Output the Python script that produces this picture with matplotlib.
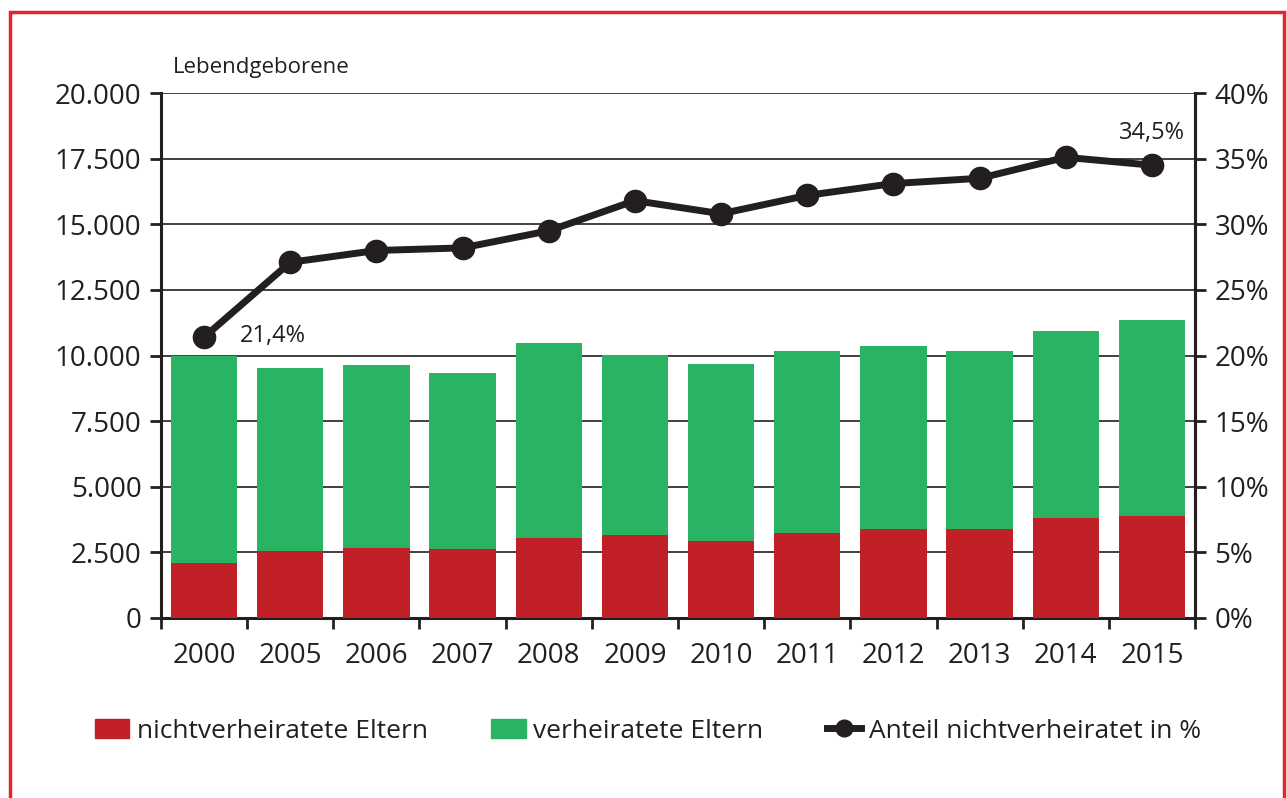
import matplotlib as mpl
import matplotlib.pyplot as plt
import matplotlib.patches as mpatches
import matplotlib.lines as mlines
import numpy as np
from matplotlib.ticker import FuncFormatter, FixedLocator

mpl.rcParams['font.family'] = ['Open Sans', 'DejaVu Sans']

years = ['2000', '2005', '2006', '2007', '2008', '2009', '2010', '2011', '2012', '2013', '2014', '2015']
nicht_verh = [2100, 2550, 2670, 2630, 3050, 3160, 2930, 3240, 3390, 3390, 3810, 3890]
gesamt = [9980, 9520, 9640, 9330, 10480, 10020, 9680, 10170, 10360, 10170, 10930, 11350]
anteil = [21.4, 27.1, 28.0, 28.2, 29.5, 31.8, 30.8, 32.2, 33.1, 33.5, 35.1, 34.5]
verh = [g - n for g, n in zip(gesamt, nicht_verh)]

red = '#c02026'
green = '#2ab363'
dark = '#231f20'

fig = plt.figure(figsize=(12.87, 7.98), dpi=100)
ax = fig.add_axes([161/1287, 1 - 618/798, (1195-161)/1287, (618-93)/798])

x = np.arange(len(years))
ax.bar(x, nicht_verh, width=0.77, color=red, zorder=3)
ax.bar(x, verh, width=0.77, bottom=nicht_verh, color=green, zorder=3)

ax.set_xlim(-0.5, len(years) - 0.5)
ax.set_ylim(0, 20000)
ax.set_yticks(np.arange(0, 20001, 2500))
ax.yaxis.set_major_formatter(FuncFormatter(lambda v, p: '{:,.0f}'.format(v).replace(',', '.')))
ax.grid(axis='y', color=dark, linewidth=1.2, zorder=1)
ax.set_xticks(x)
ax.set_xticklabels(years)
ax.xaxis.set_minor_locator(FixedLocator(np.arange(-0.5, len(years), 1.0)))
ax.tick_params(axis='x', which='major', length=0, pad=17, labelsize=20, colors=dark)
ax.tick_params(axis='x', which='minor', length=8, width=2, direction='out', color=dark)
ax.tick_params(axis='y', length=8, width=2, direction='out', labelsize=20, colors=dark, pad=6)
for s in ['left', 'right', 'bottom']:
    ax.spines[s].set_linewidth(2.2)
    ax.spines[s].set_color(dark)
ax.spines['top'].set_visible(False)

ax2 = ax.twinx()
ax2.plot(x, anteil, color=dark, linewidth=5, marker='o', markersize=16, zorder=5)
ax2.set_ylim(0, 40)
ax2.set_yticks(np.arange(0, 41, 5))
ax2.yaxis.set_major_formatter(FuncFormatter(lambda v, p: '{:.0f}%'.format(v)))
ax2.tick_params(axis='y', length=8, width=2, direction='out', labelsize=20, colors=dark, pad=6)
for s in ['top', 'left', 'bottom']:
    ax2.spines[s].set_visible(False)
ax2.spines['right'].set_linewidth(2.2)
ax2.spines['right'].set_color(dark)

ax2.annotate('21,4%', xy=(x[0], anteil[0]), xytext=(26, 1), textcoords='offset points',
             ha='left', va='center', fontsize=17, color=dark)
ax2.annotate('34,5%', xy=(x[-1], anteil[-1]), xytext=(0, 23), textcoords='offset points',
             ha='center', va='center', fontsize=17, color=dark)

fig.text(173/1287, 1 - 68/798, 'Lebendgeborene', fontsize=16, color=dark, va='center')

handles = [mpatches.Patch(color=red, label='nichtverheiratete Eltern'),
           mpatches.Patch(color=green, label='verheiratete Eltern'),
           mlines.Line2D([], [], color=dark, linewidth=5, marker='o', markersize=12,
                         label='Anteil nichtverheiratet in %')]
fig.legend(handles=handles, loc='center', bbox_to_anchor=(648/1287, 1 - 731/798), ncol=3,
           frameon=False, fontsize=19, handlelength=1.3, handletextpad=0.3, columnspacing=2.4,
           labelcolor=dark)

fig.patches.append(mpatches.Rectangle((10/1287, -0.01), 1274/1287, 1 - 12/798 + 0.01,
                                      transform=fig.transFigure, fill=False,
                                      edgecolor='#e3262d', linewidth=2.5))

fig.savefig('out.png', dpi=100)
